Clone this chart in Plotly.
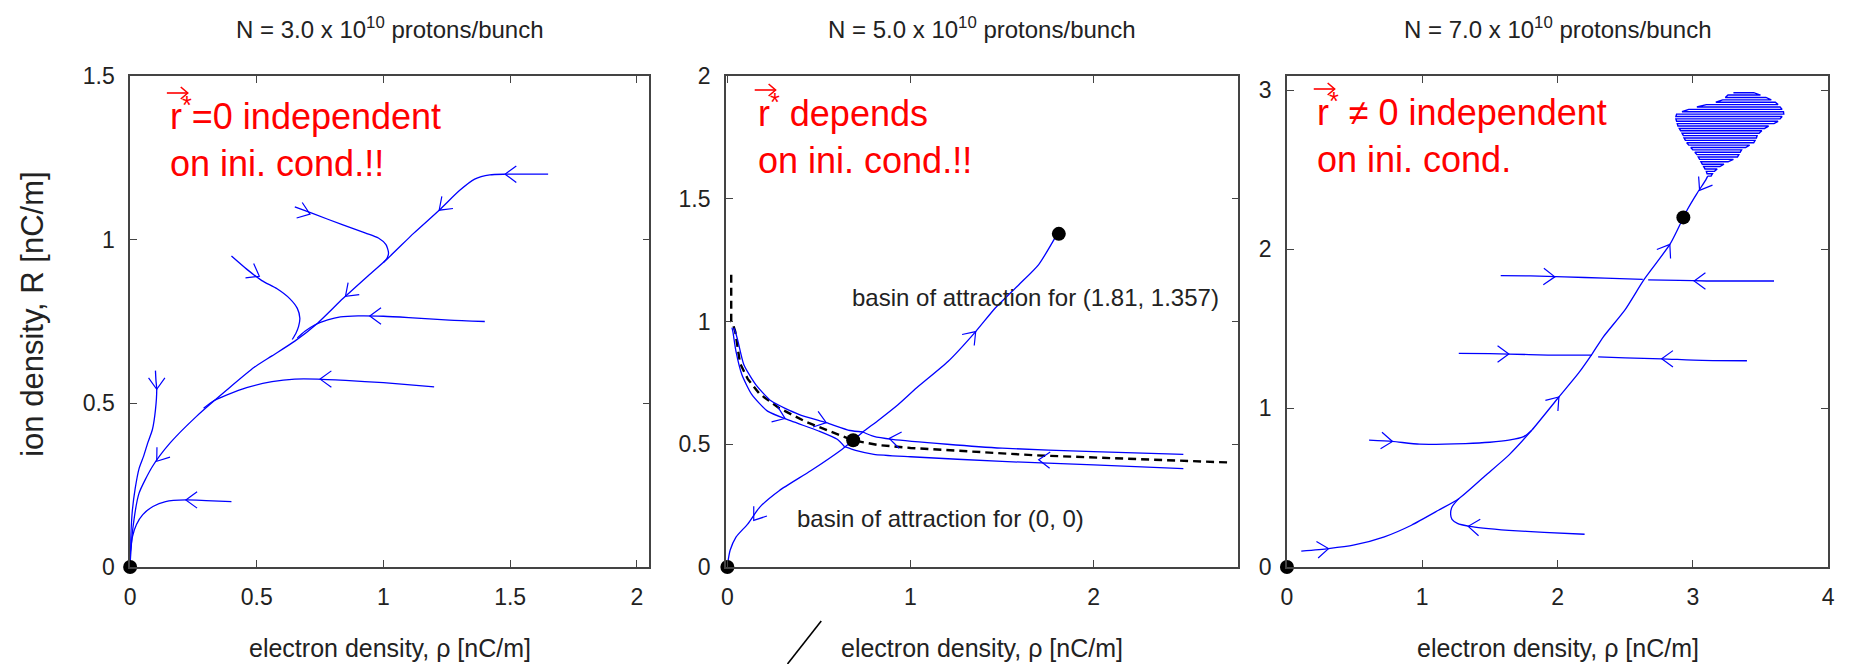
import math
import plotly.graph_objects as go

# ---------------- data ----------------
titles = ["N = 3.0 x 10<sup>10</sup> protons/bunch",
          "N = 5.0 x 10<sup>10</sup> protons/bunch",
          "N = 7.0 x 10<sup>10</sup> protons/bunch"]
red_notes = ["r<sup>*</sup>=0 independent<br>on ini. cond.!!",
             "r<sup>*</sup> depends<br>on ini. cond.!!",
             "r<sup>*</sup> ≠ 0 independent<br>on ini. cond."]
x_label = "electron density, ρ [nC/m]"
y_label = "ion density, R [nC/m]"
basin_labels = ["basin of attraction for (1.81, 1.357)", "basin of attraction for (0, 0)"]
basin_x = [0.67, 0.37]
basin_y = [1.096, 0.196]

x_ranges = [[0, 2.05], [-0.008, 2.79], [0, 4.0]]
y_ranges = [[0, 1.5], [0, 2.0], [0, 3.09]]
x_dticks = [0.5, 1, 1]
y_dticks = [0.5, 0.5, 1]

# panel 1 trajectories (N = 3e10)
p1_a_x = [1.65, 1.48, 1.42, 1.36, 1.30, 1.22, 1.12, 1.02, 0.94, 0.84, 0.74, 0.65, 0.56, 0.49, 0.385, 0.263, 0.158, 0.088, 0.035, 0.010, 0.0]
p1_a_y = [1.20, 1.20, 1.198, 1.185, 1.15, 1.09, 1.02, 0.945, 0.89, 0.82, 0.745, 0.69, 0.645, 0.61, 0.543, 0.461, 0.379, 0.307, 0.225, 0.113, 0.01]
p1_b_x = [0.65, 0.72, 0.84, 0.93, 0.98, 1.01, 1.02, 1.015, 1.00]
p1_b_y = [1.10, 1.08, 1.045, 1.02, 1.005, 0.985, 0.96, 0.945, 0.93]
p1_c_x = [0.40, 0.46, 0.52, 0.58, 0.63, 0.66, 0.67, 0.665, 0.655, 0.64]
p1_c_y = [0.95, 0.91, 0.875, 0.85, 0.82, 0.79, 0.76, 0.735, 0.715, 0.695]
p1_d_x = [1.40, 1.26, 1.10, 1.00, 0.90, 0.83, 0.78, 0.73, 0.69, 0.66]
p1_d_y = [0.75, 0.754, 0.762, 0.766, 0.767, 0.764, 0.755, 0.74, 0.72, 0.70]
p1_e_x = [1.20, 1.00, 0.85, 0.74, 0.65, 0.56, 0.46, 0.38, 0.33, 0.29]
p1_e_y = [0.55, 0.563, 0.570, 0.574, 0.574, 0.566, 0.548, 0.525, 0.508, 0.485]
p1_f_x = [0.10, 0.102, 0.105, 0.10, 0.088, 0.07, 0.053, 0.035, 0.02, 0.009, 0.003, 0.0]
p1_f_y = [0.60, 0.57, 0.543, 0.48, 0.42, 0.38, 0.338, 0.30, 0.24, 0.174, 0.10, 0.02]
p1_g_x = [0.40, 0.30, 0.22, 0.14, 0.09, 0.05, 0.025, 0.009, 0.0]
p1_g_y = [0.20, 0.203, 0.205, 0.20, 0.185, 0.16, 0.13, 0.092, 0.04]
p1_arrow_x = [1.48, 1.22, 0.71, 0.51, 0.85, 0.946, 0.75, 0.105, 0.105, 0.22]
p1_arrow_y = [1.20, 1.09, 1.078, 0.888, 0.827, 0.767, 0.574, 0.543, 0.323, 0.205]
p1_arrow_ang = [180, 223, 340, 330, 223, 180, 180, 270, 233, 180]
p1_fixed_x = [0.0]
p1_fixed_y = [0.0]

# panel 2 trajectories (N = 5e10)
p2_up_x = [0.687, 0.74, 0.82, 0.93, 1.034, 1.206, 1.356, 1.463, 1.592, 1.70, 1.80]
p2_up_y = [0.516, 0.55, 0.595, 0.66, 0.73, 0.838, 0.959, 1.055, 1.15, 1.232, 1.355]
p2_down_x = [0.687, 0.627, 0.455, 0.283, 0.176, 0.112, 0.047, 0.015, 0.0]
p2_down_y = [0.516, 0.48, 0.392, 0.311, 0.243, 0.176, 0.122, 0.068, 0.007]
p2_ru_x = [2.49, 2.0, 1.5, 1.2, 0.9, 0.8, 0.74]
p2_ru_y = [0.459, 0.47, 0.484, 0.50, 0.52, 0.532, 0.55]
p2_rl_x = [2.49, 2.0, 1.5, 1.0, 0.8, 0.7, 0.64]
p2_rl_y = [0.401, 0.416, 0.43, 0.449, 0.459, 0.475, 0.49]
p2_lo_x = [0.035, 0.045, 0.058, 0.09, 0.155, 0.24, 0.39, 0.54, 0.67, 0.74]
p2_lo_y = [0.975, 0.955, 0.919, 0.824, 0.743, 0.676, 0.622, 0.588, 0.556, 0.55]
p2_li_x = [0.025, 0.03, 0.047, 0.079, 0.133, 0.219, 0.348, 0.498, 0.60, 0.64]
p2_li_y = [0.975, 0.959, 0.878, 0.784, 0.703, 0.635, 0.595, 0.554, 0.52, 0.49]
p2_sep_x = [0.021, 0.021, 0.03, 0.043, 0.069, 0.112, 0.176, 0.283, 0.433, 0.562, 0.687, 0.82, 1.0, 1.68, 2.49, 2.73]
p2_sep_y = [1.19, 1.0, 0.99, 0.959, 0.83, 0.765, 0.705, 0.647, 0.59, 0.553, 0.516, 0.497, 0.485, 0.455, 0.434, 0.426]
p2_arrow_x = [1.356, 0.144, 0.54, 0.315, 0.884, 1.70]
p2_arrow_y = [0.959, 0.19, 0.588, 0.605, 0.524, 0.437]
p2_arrow_ang = [48, 234, 342, 338, 171, 178]
p2_fixed_x = [0.0, 0.687, 1.81]
p2_fixed_y = [0.0, 0.516, 1.357]

# panel 3 trajectories (N = 7e10)
p3_main_x = [0.106, 0.307, 0.49, 0.72, 0.92, 1.12, 1.27, 1.47, 1.64, 1.81, 2.01, 2.155, 2.255, 2.34, 2.5, 2.64, 2.83, 2.93]
p3_main_y = [0.10, 0.116, 0.137, 0.19, 0.263, 0.357, 0.43, 0.578, 0.704, 0.861, 1.07, 1.22, 1.34, 1.45, 1.62, 1.81, 2.03, 2.20]
p3_tail_x = [3.11, 3.095, 3.03, 2.96, 2.93]
p3_tail_y = [2.46, 2.435, 2.35, 2.25, 2.20]
p3_h1l_x = [1.58, 1.80, 2.05, 2.35, 2.63]
p3_h1l_y = [1.834, 1.832, 1.826, 1.818, 1.81]
p3_h1r_x = [3.60, 3.30, 3.10, 2.90, 2.67]
p3_h1r_y = [1.80, 1.80, 1.80, 1.804, 1.807]
p3_h2l_x = [1.27, 1.50, 1.64, 1.93, 2.255]
p3_h2l_y = [1.345, 1.343, 1.34, 1.334, 1.334]
p3_h2r_x = [3.40, 3.07, 2.77, 2.50, 2.30]
p3_h2r_y = [1.298, 1.30, 1.31, 1.316, 1.322]
p3_h3_x = [0.607, 0.78, 0.98, 1.32, 1.50, 1.64, 1.75, 1.81]
p3_h3_y = [0.798, 0.79, 0.773, 0.777, 0.785, 0.798, 0.82, 0.861]
p3_h4_x = [2.20, 1.90, 1.64, 1.45, 1.35, 1.26, 1.22, 1.21, 1.22, 1.27]
p3_h4_y = [0.206, 0.218, 0.231, 0.245, 0.256, 0.275, 0.30, 0.33, 0.378, 0.43]
spiral_row_y = [2.985, 2.970, 2.955, 2.940, 2.925, 2.910, 2.895, 2.880, 2.865, 2.850, 2.835, 2.820,
                2.805, 2.790, 2.775, 2.760, 2.745, 2.730, 2.715, 2.700, 2.685, 2.670, 2.655, 2.640,
                2.625, 2.610, 2.595, 2.580, 2.565, 2.550, 2.535, 2.520, 2.505, 2.490, 2.475, 2.460]
spiral_row_left = [3.30, 3.26, 3.24, 3.22, 3.17, 3.10, 3.03, 2.97, 2.92, 2.88, 2.875, 2.875,
                   2.88, 2.885, 2.89, 2.90, 2.91, 2.92, 2.93, 2.935, 2.945, 2.955, 2.97, 2.985,
                   3.00, 3.015, 3.03, 3.04, 3.05, 3.06, 3.07, 3.08, 3.09, 3.10, 3.105, 3.11]
spiral_row_right = [3.45, 3.50, 3.54, 3.58, 3.61, 3.63, 3.645, 3.66, 3.67, 3.672, 3.66, 3.645,
                    3.63, 3.60, 3.56, 3.53, 3.51, 3.49, 3.475, 3.47, 3.46, 3.45, 3.42, 3.39,
                    3.36, 3.35, 3.34, 3.33, 3.30, 3.26, 3.23, 3.20, 3.18, 3.16, 3.145, 3.135]
p3_arrow_x = [0.307, 2.01, 2.83, 3.05, 1.98, 3.01, 1.64, 2.77, 0.78, 1.34]
p3_arrow_y = [0.116, 1.07, 2.03, 2.37, 1.826, 1.80, 1.34, 1.31, 0.79, 0.256]
p3_arrow_ang = [6, 50, 57, 238, 358, 180, 0, 180, 355, 174]
p3_fixed_x = [0.0, 2.93]
p3_fixed_y = [0.0, 2.20]

# ---------------- layout constants ----------------
W, H = 1852, 664
TOP, BOT = 76, 567
panel_px = [(125, 648), (725, 1241), (1290, 1835)]
BLUE = "#0000ff"
FONT = "Liberation Sans, Arial, sans-serif"


def px_to_paper_x(px):
    return px / W


def px_to_paper_y(py):
    return (BOT - py) / (BOT - TOP)


fig = go.Figure()


def add_lines(i, xs_list, ys_list, shape="spline", width=1.3, color=BLUE, dash=None):
    xs, ys = [], []
    for xx, yy in zip(xs_list, ys_list):
        xs += list(xx) + [None]
        ys += list(yy) + [None]
    ax = "x" if i == 0 else f"x{i+1}"
    ay = "y" if i == 0 else f"y{i+1}"
    line = dict(color=color, width=width, shape=shape)
    if shape == "spline":
        line["smoothing"] = 0.6
    if dash:
        line["dash"] = dash
    fig.add_trace(go.Scatter(x=xs, y=ys, mode="lines", line=line, xaxis=ax, yaxis=ay,
                             showlegend=False, hoverinfo="skip", connectgaps=False))


def add_chevrons(i, axs, ays, angs, L=14, half=36):
    x0, x1 = panel_px[i]
    pxx = (x1 - x0) / (x_ranges[i][1] - x_ranges[i][0])
    pxy = (BOT - TOP) / (y_ranges[i][1] - y_ranges[i][0])
    xs, ys = [], []
    for x, y, a in zip(axs, ays, angs):
        b1 = math.radians(a + 180 + half)
        b2 = math.radians(a + 180 - half)
        xs += [x + L * math.cos(b1) / pxx, x, x + L * math.cos(b2) / pxx, None]
        ys += [y + L * math.sin(b1) / pxy, y, y + L * math.sin(b2) / pxy, None]
    add_lines(i, [xs], [ys], shape="linear", width=1.2)


def add_dots(i, xs, ys):
    ax = "x" if i == 0 else f"x{i+1}"
    ay = "y" if i == 0 else f"y{i+1}"
    fig.add_trace(go.Scatter(x=xs, y=ys, mode="markers", marker=dict(color="black", size=14),
                             xaxis=ax, yaxis=ay, showlegend=False, hoverinfo="skip", cliponaxis=False))


# panel 1
add_lines(0, [p1_a_x, p1_b_x, p1_c_x, p1_d_x, p1_e_x, p1_f_x, p1_g_x],
          [p1_a_y, p1_b_y, p1_c_y, p1_d_y, p1_e_y, p1_f_y, p1_g_y])
add_chevrons(0, p1_arrow_x, p1_arrow_y, p1_arrow_ang)
add_dots(0, p1_fixed_x, p1_fixed_y)

# panel 2
add_lines(1, [p2_sep_x], [p2_sep_y], shape="linear", width=2.4, color="black", dash="8px,5px")
add_lines(1, [p2_up_x, p2_down_x, p2_ru_x, p2_rl_x, p2_lo_x, p2_li_x],
          [p2_up_y, p2_down_y, p2_ru_y, p2_rl_y, p2_lo_y, p2_li_y])
add_chevrons(1, p2_arrow_x, p2_arrow_y, p2_arrow_ang)
add_dots(1, p2_fixed_x, p2_fixed_y)

# panel 3
add_lines(2, [p3_main_x, p3_tail_x, p3_h1l_x, p3_h1r_x, p3_h2l_x, p3_h2r_x, p3_h3_x, p3_h4_x],
          [p3_main_y, p3_tail_y, p3_h1l_y, p3_h1r_y, p3_h2l_y, p3_h2r_y, p3_h3_y, p3_h4_y])
sx, sy = [], []
for k, (yr, xl, xr) in enumerate(zip(spiral_row_y, spiral_row_left, spiral_row_right)):
    if k % 2 == 0:
        sx += [xl, xr]
    else:
        sx += [xr, xl]
    sy += [yr, yr]
add_lines(2, [sx], [sy], shape="linear", width=1.4)
add_chevrons(2, p3_arrow_x, p3_arrow_y, p3_arrow_ang)
add_dots(2, p3_fixed_x, p3_fixed_y)

# axes
axis_common = dict(showgrid=False, zeroline=False, showline=True, linecolor="#444", linewidth=1.5,
                   mirror="ticks", ticks="inside", ticklen=7, tickwidth=1.3, tickcolor="#444",
                   tickfont=dict(family=FONT, size=23, color="#222"))
layout_axes = {}
for i in range(3):
    sfx = "" if i == 0 else str(i + 1)
    x0, x1 = panel_px[i]
    layout_axes[f"xaxis{sfx}"] = dict(axis_common, domain=[px_to_paper_x(x0), px_to_paper_x(x1)],
                                      range=x_ranges[i], dtick=x_dticks[i], tick0=0,
                                      anchor=f"y{sfx}", ticklabelstandoff=9)
    layout_axes[f"yaxis{sfx}"] = dict(axis_common, domain=[0, 1], range=y_ranges[i],
                                      dtick=y_dticks[i], tick0=0, anchor=f"x{sfx}",
                                      ticklabelstandoff=9)

annotations = []
shapes = []
red_left_px = [163, 755, 1318]
red_base_px = [128, 125, 124]
for i in range(3):
    x0, x1 = panel_px[i]
    cx = (x0 + x1) / 2
    annotations.append(dict(text=titles[i], x=px_to_paper_x(cx), y=px_to_paper_y(28), xref="paper",
                            yref="paper", showarrow=False, xanchor="center", yanchor="middle",
                            font=dict(family=FONT, size=24, color="#222")))
    annotations.append(dict(text=x_label, x=px_to_paper_x(cx), y=px_to_paper_y(648), xref="paper",
                            yref="paper", showarrow=False, xanchor="center", yanchor="middle",
                            font=dict(family=FONT, size=25, color="#222")))
    b = red_base_px[i]
    L0 = red_left_px[i]
    annotations.append(dict(text=red_notes[i], x=px_to_paper_x(L0),
                            y=px_to_paper_y(b + 9.9), xref="paper", yref="paper",
                            showarrow=False, xanchor="left", yanchor="middle", align="left",
                            font=dict(family=FONT, size=36, color="#ff0000")))
    # vector arrow over the r
    ay_px = b - 35
    red_line = dict(color="#ff0000", width=1.6)
    shapes.append(dict(type="line", xref="paper", yref="paper",
                       x0=px_to_paper_x(L0 - 1), y0=px_to_paper_y(ay_px),
                       x1=px_to_paper_x(L0 + 20), y1=px_to_paper_y(ay_px), line=red_line))
    shapes.append(dict(type="path", xref="paper", yref="paper",
                       path=(f"M {px_to_paper_x(L0 + 13)} {px_to_paper_y(ay_px - 6)} "
                             f"L {px_to_paper_x(L0 + 20)} {px_to_paper_y(ay_px)} "
                             f"L {px_to_paper_x(L0 + 13)} {px_to_paper_y(ay_px + 6)}"),
                       line=red_line))

annotations.append(dict(text=y_label, x=px_to_paper_x(26), y=px_to_paper_y(314), xref="paper",
                        yref="paper", showarrow=False, textangle=-90, xanchor="center",
                        yanchor="middle", font=dict(family=FONT, size=31, color="#222")))
for t, bx, by in zip(basin_labels, basin_x, basin_y):
    annotations.append(dict(text=t, x=bx, y=by, xref="x2", yref="y2", showarrow=False,
                            xanchor="left", yanchor="middle",
                            font=dict(family=FONT, size=24, color="#222")))

shapes.append(dict(type="line", xref="paper", yref="paper",
                   x0=px_to_paper_x(787), y0=px_to_paper_y(664),
                   x1=px_to_paper_x(821), y1=px_to_paper_y(621),
                   line=dict(color="black", width=1.6)))

fig.update_layout(width=W, height=H, margin=dict(l=0, r=0, t=TOP, b=H - BOT),
                  paper_bgcolor="white", plot_bgcolor="white", showlegend=False,
                  annotations=annotations, shapes=shapes, **layout_axes)

fig.write_html("out.html", config={"displayModeBar": False},
               post_script="document.body.style.margin='0px';document.body.style.overflow='hidden';")
